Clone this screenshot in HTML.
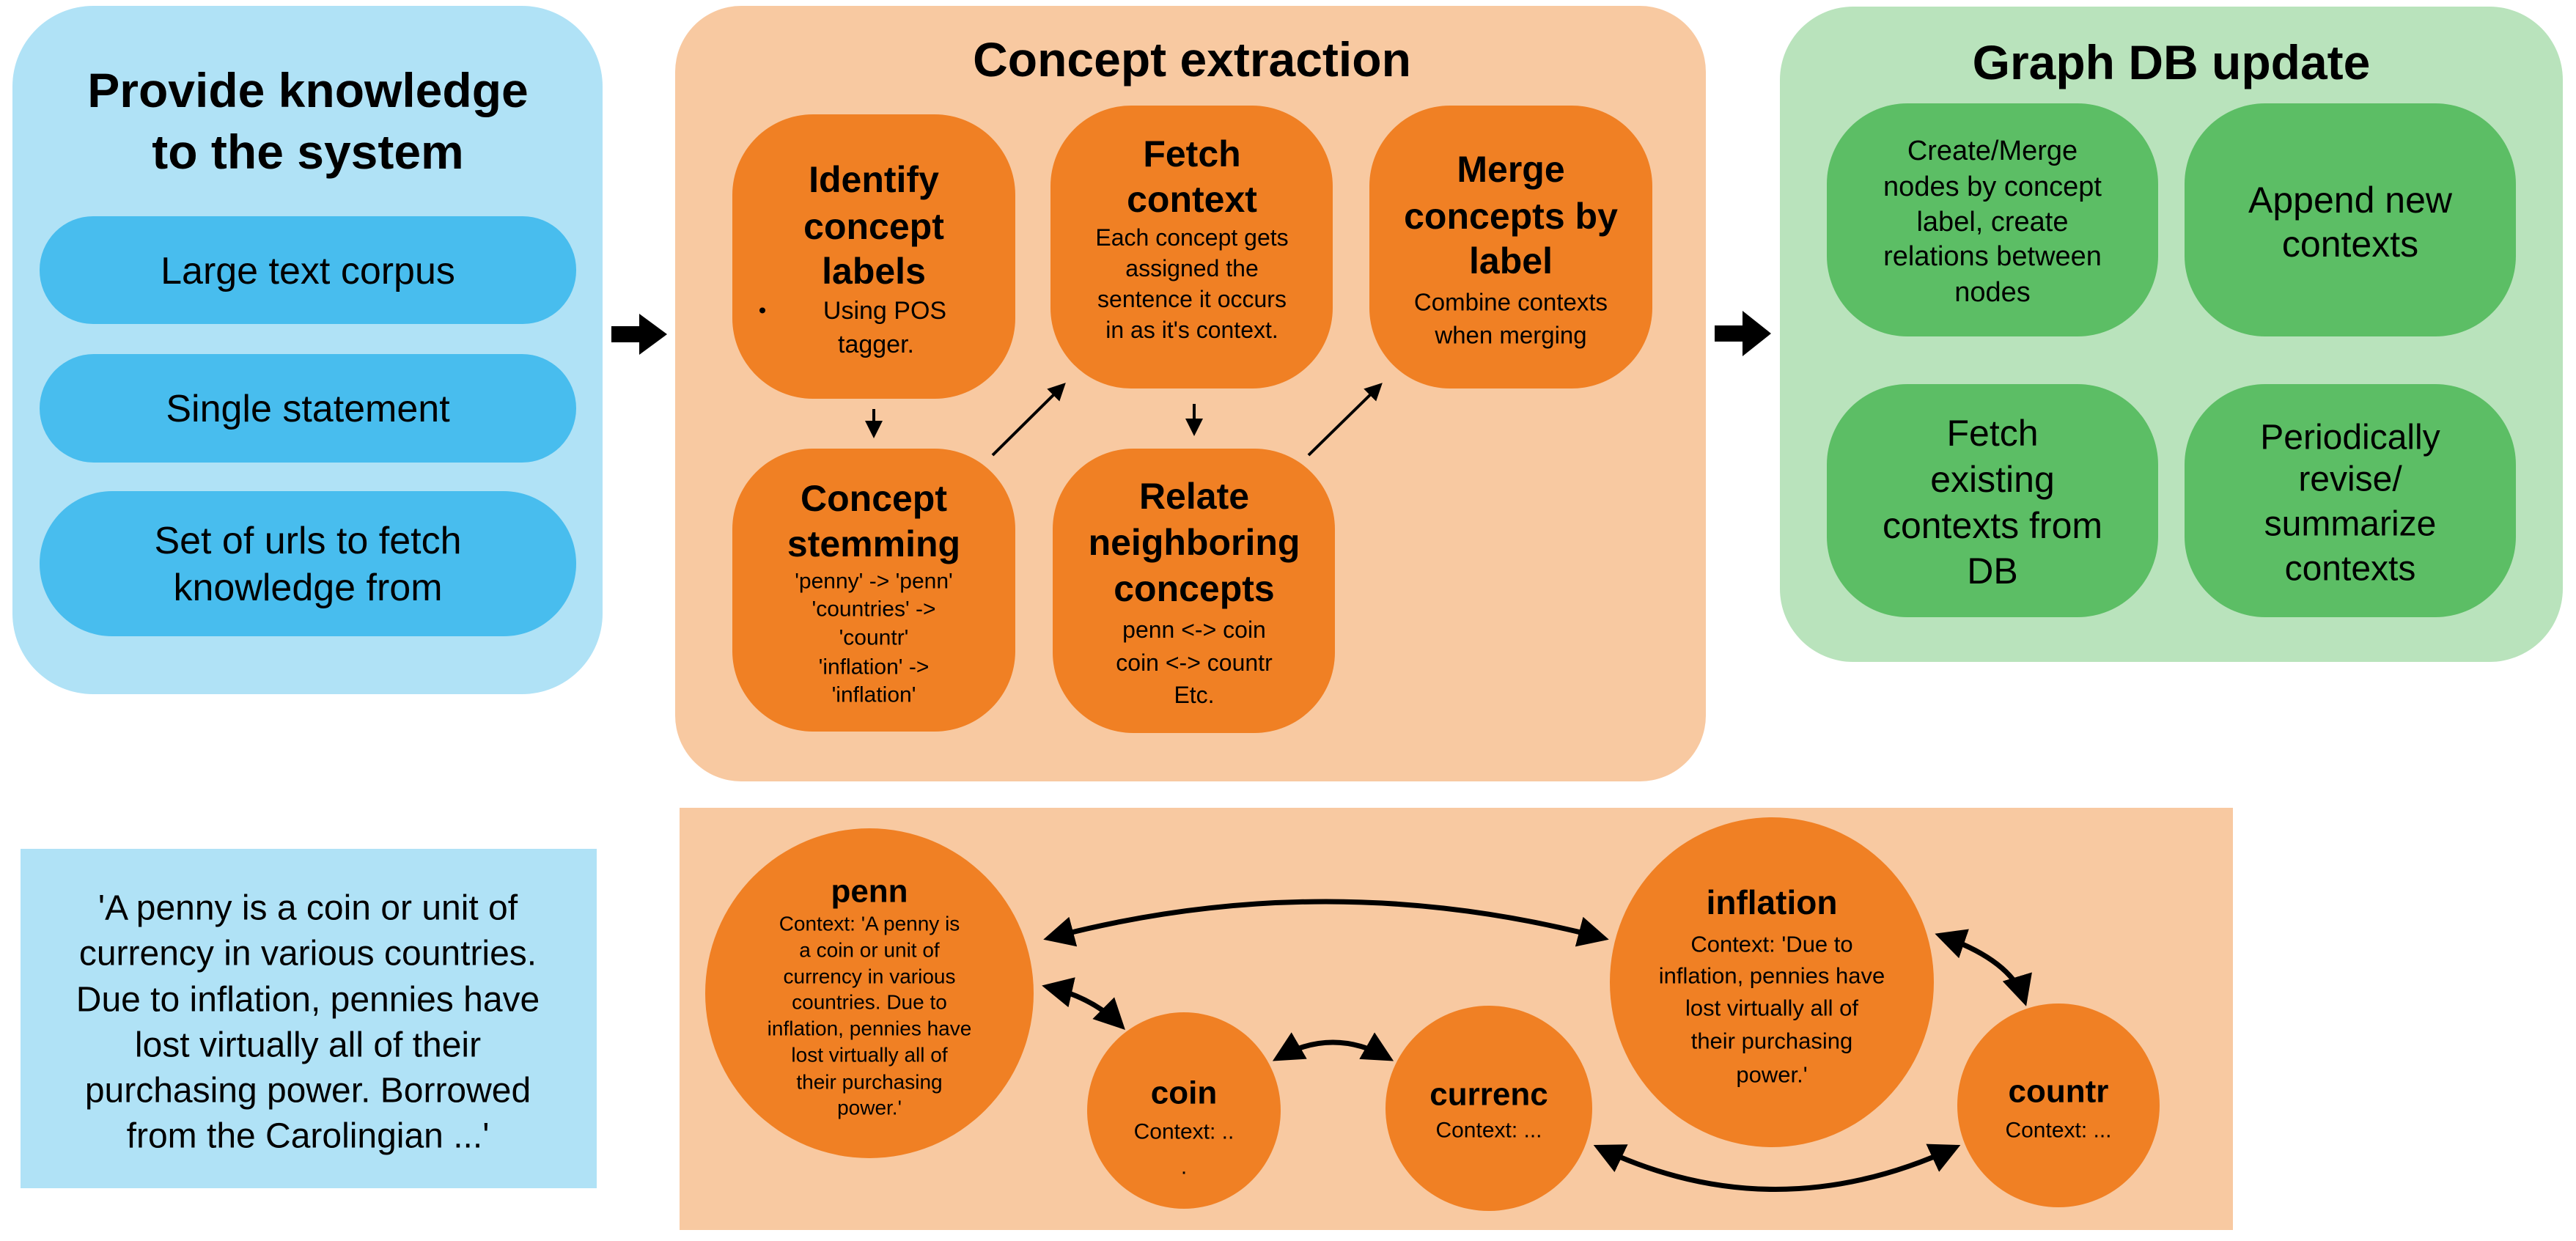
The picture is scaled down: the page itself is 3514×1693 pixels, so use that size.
<!DOCTYPE html>
<html><head><meta charset="utf-8"><style>
html,body{margin:0;padding:0;background:#fff}
svg text{font-family:"Liberation Sans",sans-serif;fill:#000;text-anchor:middle;dominant-baseline:central}
.b{font-weight:bold}
</style></head><body>
<svg width="3514" height="1688" viewBox="0 0 3514 1688" xmlns="http://www.w3.org/2000/svg">
<defs>
<marker id="ah" markerWidth="6" markerHeight="6" refX="5" refY="3" orient="auto" markerUnits="strokeWidth"><path d="M0,0 L6,3 L0,6 z" fill="#000"/></marker>
<marker id="ahs" markerWidth="6" markerHeight="6" refX="1" refY="3" orient="auto" markerUnits="strokeWidth"><path d="M6,0 L0,3 L6,6 z" fill="#000"/></marker>
</defs>
<!-- Blue section -->
<rect x="17" y="8" width="805" height="939" rx="110" fill="#b0e2f6"/>
<text x="420" y="123" class="b" font-size="66">Provide knowledge</text>
<text x="420" y="207" class="b" font-size="66">to the system</text>
<rect x="54" y="295" width="732" height="147" rx="73" fill="#48bdee"/>
<text x="420" y="370" font-size="52">Large text corpus</text>
<rect x="54" y="483" width="732" height="148" rx="74" fill="#48bdee"/>
<text x="420" y="558" font-size="52">Single statement</text>
<rect x="54" y="670" width="732" height="198" rx="99" fill="#48bdee"/>
<text x="420" y="738" font-size="52">Set of urls to fetch</text>
<text x="420" y="802" font-size="52">knowledge from</text>
<!-- arrow 1 -->
<path d="M834,445 H872 V428 L910,456 L872,484 V467 H834 z" fill="#000"/>
<!-- Orange section -->
<rect x="921" y="8" width="1406" height="1058" rx="90" fill="#f8c9a1"/>
<text x="1626" y="81" class="b" font-size="66">Concept extraction</text>
<rect x="999" y="156" width="386" height="388" rx="110" fill="#f08024"/>
<text x="1192" y="245" class="b" font-size="50">Identify</text>
<text x="1192" y="309" class="b" font-size="50">concept</text>
<text x="1192" y="370" class="b" font-size="50">labels</text>
<text x="1040" y="424" font-size="30">•</text>
<text x="1207" y="424" font-size="34">Using POS</text>
<text x="1195" y="470" font-size="34">tagger.</text>
<rect x="1433" y="144" width="385" height="386" rx="110" fill="#f08024"/>
<text x="1626" y="210" class="b" font-size="50">Fetch</text>
<text x="1626" y="272" class="b" font-size="50">context</text>
<text x="1626" y="324" font-size="32">Each concept gets</text>
<text x="1626" y="366" font-size="32">assigned the</text>
<text x="1626" y="408" font-size="32">sentence it occurs</text>
<text x="1626" y="450" font-size="32">in as it's context.</text>
<rect x="1868" y="144" width="386" height="386" rx="110" fill="#f08024"/>
<text x="2061" y="231" class="b" font-size="50">Merge</text>
<text x="2061" y="295" class="b" font-size="50">concepts by</text>
<text x="2061" y="356" class="b" font-size="50">label</text>
<text x="2061" y="412" font-size="33">Combine contexts</text>
<text x="2061" y="457" font-size="33">when merging</text>
<rect x="999" y="612" width="386" height="386" rx="110" fill="#f08024"/>
<text x="1192" y="680" class="b" font-size="50">Concept</text>
<text x="1192" y="742" class="b" font-size="50">stemming</text>
<text x="1192" y="793" font-size="30">'penny' -&gt; 'penn'</text>
<text x="1192" y="831" font-size="30">'countries' -&gt;</text>
<text x="1192" y="870" font-size="30">'countr'</text>
<text x="1192" y="910" font-size="30">'inflation' -&gt;</text>
<text x="1192" y="948" font-size="30">'inflation'</text>
<rect x="1436" y="612" width="385" height="388" rx="110" fill="#f08024"/>
<text x="1629" y="677" class="b" font-size="50">Relate</text>
<text x="1629" y="740" class="b" font-size="50">neighboring</text>
<text x="1629" y="803" class="b" font-size="50">concepts</text>
<text x="1629" y="859" font-size="32">penn &lt;-&gt; coin</text>
<text x="1629" y="904" font-size="32">coin &lt;-&gt; countr</text>
<text x="1629" y="948" font-size="32">Etc.</text>
<g stroke="#000" stroke-width="4" fill="none">
<line x1="1192" y1="558" x2="1192" y2="594" marker-end="url(#ah)"/>
<line x1="1629" y1="551" x2="1629" y2="591" marker-end="url(#ah)"/>
<line x1="1354" y1="621" x2="1451" y2="525" marker-end="url(#ah)"/>
<line x1="1785" y1="621" x2="1883" y2="525" marker-end="url(#ah)"/>
<line x1="2718" y1="470" x2="2718" y2="510" marker-end="url(#ah)"/>
<line x1="3206" y1="470" x2="3206" y2="510" marker-end="url(#ah)"/>
<line x1="2911" y1="539" x2="3008" y2="443" marker-end="url(#ah)"/>
</g>
<!-- arrow 2 -->
<path d="M2339,444 H2377 V424 L2416,455 L2377,486 V466 H2339 z" fill="#000"/>
<!-- Green section -->
<rect x="2428" y="9" width="1068" height="894" rx="100" fill="#b9e3bc"/>
<text x="2962" y="85" class="b" font-size="66">Graph DB update</text>
<rect x="2492" y="141" width="452" height="318" rx="110" fill="#5cbe65"/>
<text x="2718" y="206" font-size="38">Create/Merge</text>
<text x="2718" y="255" font-size="38">nodes by concept</text>
<text x="2718" y="303" font-size="38">label, create</text>
<text x="2718" y="350" font-size="38">relations between</text>
<text x="2718" y="399" font-size="38">nodes</text>
<rect x="2980" y="141" width="452" height="318" rx="110" fill="#5cbe65"/>
<text x="3206" y="273" font-size="50">Append new</text>
<text x="3206" y="333" font-size="50">contexts</text>
<rect x="2492" y="524" width="452" height="318" rx="110" fill="#5cbe65"/>
<text x="2718" y="591" font-size="50">Fetch</text>
<text x="2718" y="654" font-size="50">existing</text>
<text x="2718" y="717" font-size="50">contexts from</text>
<text x="2718" y="779" font-size="50">DB</text>
<rect x="2980" y="524" width="452" height="318" rx="110" fill="#5cbe65"/>
<text x="3206" y="597" font-size="48">Periodically</text>
<text x="3206" y="654" font-size="48">revise/</text>
<text x="3206" y="715" font-size="48">summarize</text>
<text x="3206" y="776" font-size="48">contexts</text>
<!-- Bottom text box -->
<rect x="28" y="1158" width="786" height="463" fill="#b0e2f6"/>
<text x="420" y="1239" font-size="48">'A penny is a coin or unit of</text>
<text x="420" y="1301" font-size="48">currency in various countries.</text>
<text x="420" y="1364" font-size="48">Due to inflation, pennies have</text>
<text x="420" y="1426" font-size="48">lost virtually all of their</text>
<text x="420" y="1488" font-size="48">purchasing power. Borrowed</text>
<text x="420" y="1550" font-size="48">from the Carolingian ...'</text>
<!-- Bottom graph -->
<rect x="927" y="1102" width="2119" height="576" fill="#f8c9a1"/>
<ellipse cx="1186" cy="1355" rx="224" ry="225" fill="#f08024"/>
<ellipse cx="1615" cy="1515" rx="132" ry="134" fill="#f08024"/>
<ellipse cx="2031" cy="1512" rx="141" ry="140" fill="#f08024"/>
<ellipse cx="2417" cy="1340" rx="221" ry="225" fill="#f08024"/>
<ellipse cx="2808" cy="1508" rx="138" ry="139" fill="#f08024"/>
<g stroke="#000" stroke-width="7" fill="none">
<path d="M1430,1280 Q1808,1180 2188,1280" marker-start="url(#ahs)" marker-end="url(#ah)"/>
<path d="M1428,1346 Q1490,1360 1530,1400" marker-start="url(#ahs)" marker-end="url(#ah)"/>
<path d="M1742,1444 Q1818,1400 1895,1444" marker-start="url(#ahs)" marker-end="url(#ah)"/>
<path d="M2180,1565 Q2420,1680 2668,1565" marker-start="url(#ahs)" marker-end="url(#ah)"/>
<path d="M2646,1276 Q2745,1310 2762,1366" marker-start="url(#ahs)" marker-end="url(#ah)"/>
</g>
<text x="1186" y="1216" class="b" font-size="44">penn</text>
<text x="1186" y="1260" font-size="28">Context: 'A penny is</text>
<text x="1186" y="1296" font-size="28">a coin or unit of</text>
<text x="1186" y="1332" font-size="28">currency in various</text>
<text x="1186" y="1367" font-size="28">countries. Due to</text>
<text x="1186" y="1403" font-size="28">inflation, pennies have</text>
<text x="1186" y="1439" font-size="28">lost virtually all of</text>
<text x="1186" y="1476" font-size="28">their purchasing</text>
<text x="1186" y="1511" font-size="28">power.'</text>
<text x="1615" y="1491" class="b" font-size="44">coin</text>
<text x="1615" y="1544" font-size="30">Context: ..</text>
<text x="1615" y="1592" font-size="30">.</text>
<text x="2031" y="1493" class="b" font-size="44">currenc</text>
<text x="2031" y="1542" font-size="30">Context: ...</text>
<text x="2417" y="1231" class="b" font-size="46">inflation</text>
<text x="2417" y="1288" font-size="31">Context: 'Due to</text>
<text x="2417" y="1331" font-size="31">inflation, pennies have</text>
<text x="2417" y="1375" font-size="31">lost virtually all of</text>
<text x="2417" y="1420" font-size="31">their purchasing</text>
<text x="2417" y="1466" font-size="31">power.'</text>
<text x="2808" y="1489" class="b" font-size="44">countr</text>
<text x="2808" y="1542" font-size="30">Context: ...</text>
</svg>
</body></html>
